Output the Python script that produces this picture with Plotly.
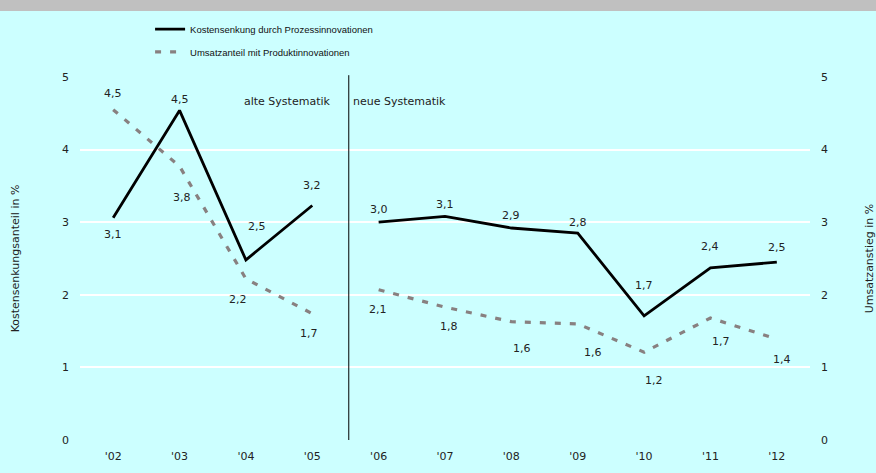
import plotly.graph_objects as go

years = ["'02", "'03", "'04", "'05", "'06", "'07", "'08", "'09", "'10", "'11", "'12"]
kosten = [3.06, 4.54, 2.48, 3.23, 3.0, 3.08, 2.92, 2.85, 1.71, 2.37, 2.45]
kosten_labels = ["3,1", "4,5", "2,5", "3,2", "3,0", "3,1", "2,9", "2,8", "1,7", "2,4", "2,5"]
umsatz = [4.55, 3.77, 2.22, 1.74, 2.07, 1.83, 1.63, 1.6, 1.21, 1.68, 1.39]
umsatz_labels = ["4,5", "3,8", "2,2", "1,7", "2,1", "1,8", "1,6", "1,6", "1,2", "1,7", "1,4"]
y_ticks = [0, 1, 2, 3, 4, 5]

# label offsets in pixels (style only)
k_off = [(0, -17), (0, 11), (11, 33), (0, 20), (0, 13), (0, 12), (0, 13), (0, 11), (0, 30), (0, 21), (0, 15)]
u_off = [(0, 16), (2, -31), (-8, -21), (-3, -20), (-1, -20), (4, -19), (11, -27), (15, -29), (10, -28), (11, -23), (5, -20)]

n_old = 4  # number of 'alte Systematik' years
FONT = "DejaVu Sans, Verdana, sans-serif"
LEGFONT = dict(family="Liberation Sans, Arial, sans-serif", size=9.5, color="#111")

fig = go.Figure()
segs = [(0, n_old), (n_old, len(years))]
for i, (a, b) in enumerate(segs):
    fig.add_trace(go.Scatter(
        x=years[a:b], y=kosten[a:b], mode="lines", yaxis="y",
        name="Kostensenkung durch Prozessinnovationen", legend="legend",
        line=dict(color="black", width=2.8), showlegend=(i == 0),
        hoverinfo="skip"))
for i, (a, b) in enumerate(segs):
    fig.add_trace(go.Scatter(
        x=years[a:b], y=umsatz[a:b], mode="lines", yaxis="y2",
        name="Umsatzanteil mit Produktinnovationen", legend="legend2",
        line=dict(color="#888080", width=3.2, dash="6px,9px"), showlegend=(i == 0),
        hoverinfo="skip"))

anns = []
for i, y in enumerate(years):
    anns.append(dict(x=y, y=kosten[i], xref="x", yref="y", text=kosten_labels[i],
                     showarrow=False, xshift=k_off[i][0], yshift=k_off[i][1],
                     font=dict(family=FONT, size=11, color="#222")))
    anns.append(dict(x=y, y=umsatz[i], xref="x", yref="y2", text=umsatz_labels[i],
                     showarrow=False, xshift=u_off[i][0], yshift=u_off[i][1],
                     font=dict(family=FONT, size=11, color="#222")))
anns.append(dict(x=n_old - 0.5, y=0.955, xref="x", yref="paper", text="alte Systematik",
                 showarrow=False, xanchor="right", xshift=-12,
                 font=dict(family=FONT, size=11, color="#222")))
anns.append(dict(x=n_old - 0.5, y=0.955, xref="x", yref="paper", text="neue Systematik",
                 showarrow=False, xanchor="left", xshift=6,
                 font=dict(family=FONT, size=11, color="#222")))
fig.update_layout(annotations=anns)

fig.add_shape(type="line", x0=n_old - 0.45, x1=n_old - 0.45, y0=0, y1=1.005, xref="x", yref="paper",
              line=dict(color="black", width=1))
fig.add_shape(type="rect", x0=-0.2, x1=1.2, y0=1.182, y1=1.3, xref="paper", yref="paper",
              fillcolor="#c0c0c0", line=dict(width=0), layer="above")

leg_common = dict(xanchor="left", yanchor="middle", orientation="v",
                  bgcolor="rgba(0,0,0,0)", font=LEGFONT, itemwidth=30)

fig.update_layout(
    width=876, height=473, autosize=False,
    margin=dict(l=80, r=66, t=77, b=33, autoexpand=False),
    paper_bgcolor="#ccffff", plot_bgcolor="#ccffff",
    font=dict(family=FONT, size=11, color="#222"),
    showlegend=True,
    legend=dict(x=0.096, y=1.132, **leg_common),
    legend2=dict(x=0.096, y=1.069, **leg_common),
    xaxis=dict(type="category", categoryorder="array", categoryarray=years,
               range=[-0.5, len(years) - 0.5],
               showgrid=False, zeroline=False, showline=False, automargin=False,
               tickfont=dict(family=FONT, size=11), ticks="", ticklabelstandoff=8),
    yaxis=dict(range=[0, 5], tickvals=y_ticks, showgrid=True, gridcolor="white",
               gridwidth=1.5, zeroline=False, showline=False, ticks="", automargin=False,
               ticklabelstandoff=10,
               title=dict(text="Kostensenkungsanteil in %", standoff=40,
                          font=dict(family=FONT, size=11))),
    yaxis2=dict(range=[0, 5], tickvals=y_ticks, overlaying="y", side="right",
                showgrid=False, zeroline=False, showline=False, ticks="", automargin=False,
                ticklabelstandoff=10,
                title=dict(text="Umsatzanstieg in %", standoff=50,
                           font=dict(family=FONT, size=11))),
)

fig.write_html("out.html", config={"displayModeBar": False},
               post_script="document.body.style.margin='0';")
